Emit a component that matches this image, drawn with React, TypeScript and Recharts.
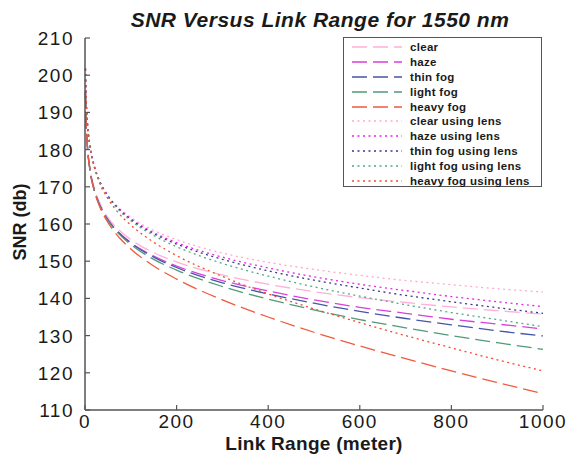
import React from "react";
import { LineChart, Line, XAxis, YAxis } from "recharts";

// link range (meter)
const range = [1, 2, 5, 10, 20, 30, 50, 75, 100, 150, 200, 300, 400, 500, 600, 700, 800, 900, 1000];

// SNR (db)
const clear = [195.8, 189.8, 181.8, 175.8, 169.8, 166.3, 161.8, 158.3, 155.8, 152.3, 149.8, 146.3, 143.8, 141.8, 140.2, 138.9, 137.7, 136.7, 135.8];
const haze = [195.4, 189.4, 181.4, 175.4, 169.3, 165.8, 161.2, 157.6, 155.0, 151.4, 148.7, 144.8, 142.0, 139.6, 137.6, 136.0, 134.4, 133.1, 131.8];
const thinFog = [195.4, 189.4, 181.4, 175.3, 169.3, 165.7, 161.1, 157.5, 154.9, 151.1, 148.3, 144.2, 141.2, 138.7, 136.5, 134.6, 132.9, 131.3, 129.9];
const lightFog = [195.4, 189.4, 181.4, 175.3, 169.2, 165.6, 160.9, 157.2, 154.5, 150.5, 147.6, 143.2, 139.8, 136.9, 134.3, 132.1, 130.0, 128.1, 126.3];
const heavyFog = [195.4, 189.4, 181.3, 175.2, 169.0, 165.3, 160.4, 156.3, 153.3, 148.7, 145.2, 139.6, 135.0, 130.9, 127.2, 123.8, 120.5, 117.4, 114.4];
const clearLens = [201.8, 195.8, 187.8, 181.8, 175.8, 172.3, 167.8, 164.3, 161.8, 158.3, 155.8, 152.2, 149.7, 147.8, 146.2, 144.8, 143.7, 142.6, 141.7];
const hazeLens = [201.8, 195.8, 187.8, 181.8, 175.7, 172.1, 167.6, 164.0, 161.4, 157.7, 155.0, 151.1, 148.2, 145.8, 143.8, 142.1, 140.5, 139.1, 137.8];
const thinFogLens = [201.8, 195.8, 187.8, 181.7, 175.7, 172.1, 167.5, 163.9, 161.2, 157.4, 154.6, 150.5, 147.4, 144.9, 142.8, 140.8, 139.1, 137.5, 136.0];
const lightFogLens = [201.8, 195.8, 187.8, 181.7, 175.6, 172.0, 167.3, 163.6, 160.9, 156.9, 153.9, 149.4, 146.0, 143.1, 140.6, 138.3, 136.2, 134.3, 132.4];
const heavyFogLens = [201.8, 195.7, 187.7, 181.6, 175.4, 171.6, 166.8, 162.7, 159.7, 155.1, 151.5, 145.9, 141.2, 137.2, 133.5, 130.0, 126.7, 123.5, 120.5];

const xTicks = [0, 200, 400, 600, 800, 1000];
const yTicks = [110, 120, 130, 140, 150, 160, 170, 180, 190, 200, 210];

const DASH = "15 6";
const DOT = "2 3.5";

const series = [
  { key: "clear", name: "clear", values: clear, color: "#ffb0d8", dash: DASH },
  { key: "haze", name: "haze", values: haze, color: "#d840d8", dash: DASH },
  { key: "thin", name: "thin fog", values: thinFog, color: "#4656a8", dash: DASH },
  { key: "light", name: "light fog", values: lightFog, color: "#4f9a78", dash: DASH },
  { key: "heavy", name: "heavy fog", values: heavyFog, color: "#f05a3c", dash: DASH },
  { key: "clearL", name: "clear using lens", values: clearLens, color: "#ffa8d0", dash: DOT },
  { key: "hazeL", name: "haze using lens", values: hazeLens, color: "#e826e8", dash: DOT },
  { key: "thinL", name: "thin fog using lens", values: thinFogLens, color: "#34388c", dash: DOT },
  { key: "lightL", name: "light fog using lens", values: lightFogLens, color: "#52a884", dash: DOT },
  { key: "heavyL", name: "heavy fog using lens", values: heavyFogLens, color: "#f04c30", dash: DOT },
];

const data = range.map((x, i) => {
  const row: Record<string, number> = { x };
  series.forEach((s) => (row[s.key] = s.values[i]));
  return row;
});

const FONT = "'Liberation Sans', Arial, sans-serif";
const AXIS = "#555";
const TEXT = "#1a1a1a";

function BottomTick({ x, y, payload }: any) {
  return (
    <g>
      <line x1={x} y1={y} x2={x} y2={y - 5} stroke={AXIS} strokeWidth={1.2} />
      <text x={x} y={y + 18} textAnchor="middle" fontSize={19} letterSpacing={1.5} fill={TEXT} fontFamily={FONT}>
        {payload.value}
      </text>
    </g>
  );
}

function TopTick({ x, y }: any) {
  return <line x1={x} y1={y} x2={x} y2={y + 5} stroke={AXIS} strokeWidth={1.2} />;
}

function LeftTick({ x, y, payload }: any) {
  return (
    <g>
      <line x1={x} y1={y} x2={x + 5} y2={y} stroke={AXIS} strokeWidth={1.2} />
      <text x={x - 11} y={y + 7} textAnchor="end" fontSize={19} letterSpacing={1.5} fill={TEXT} fontFamily={FONT}>
        {payload.value}
      </text>
    </g>
  );
}

function RightTick({ x, y }: any) {
  return <line x1={x} y1={y} x2={x - 5} y2={y} stroke={AXIS} strokeWidth={1.2} />;
}

function LegendBox() {
  return (
    <div
      style={{
        position: "absolute",
        left: 343,
        top: 37,
        width: 199,
        height: 150,
        border: `1px solid ${AXIS}`,
        background: "white",
        boxSizing: "border-box",
        paddingTop: 2,
      }}
    >
      {series.map((s) => (
        <div key={s.key} style={{ display: "flex", alignItems: "center", height: 14.8 }}>
          <svg width={60} height={10} style={{ marginLeft: 6 }}>
            <line x1={2} y1={5} x2={52} y2={5} stroke={s.color} strokeWidth={1.4} strokeDasharray={s.dash} />
          </svg>
          <span style={{ fontFamily: FONT, fontWeight: 700, fontSize: 11.5, color: TEXT, letterSpacing: 0.3 }}>
            {s.name}
          </span>
        </div>
      ))}
    </div>
  );
}

export default function App() {
  return (
    <div style={{ position: "absolute", left: 0, top: 0, width: 575, height: 461, background: "white" }}>
      <div
        style={{
          position: "absolute",
          left: 90,
          width: 460,
          top: 8,
          textAlign: "center",
          fontFamily: FONT,
          fontWeight: 700,
          fontStyle: "italic",
          fontSize: 21,
          letterSpacing: 0.5,
          color: TEXT,
        }}
      >
        SNR Versus Link Range for 1550 nm
      </div>
      <LineChart width={575} height={461} data={data} margin={{ top: 38, right: 32, left: 25, bottom: 21 }}>
        <XAxis
          dataKey="x"
          type="number"
          domain={[0, 1000]}
          ticks={xTicks}
          tickSize={0}
          tickMargin={0}
          tickLine={false}
          tick={<BottomTick />}
          height={30}
          axisLine={{ stroke: AXIS, strokeWidth: 1.5 }}
        />
        <XAxis
          xAxisId="top"
          orientation="top"
          dataKey="x"
          type="number"
          domain={[0, 1000]}
          ticks={xTicks}
          tickSize={0}
          tickMargin={0}
          tickLine={false}
          tick={<TopTick />}
          height={0}
          axisLine={{ stroke: AXIS, strokeWidth: 1.5 }}
        />
        <YAxis
          type="number"
          domain={[110, 210]}
          ticks={yTicks}
          tickSize={0}
          tickMargin={0}
          tickLine={false}
          tick={<LeftTick />}
          width={60}
          axisLine={{ stroke: AXIS, strokeWidth: 1.5 }}
        />
        <YAxis
          yAxisId="right"
          orientation="right"
          type="number"
          domain={[110, 210]}
          ticks={yTicks}
          tickSize={0}
          tickMargin={0}
          tickLine={false}
          tick={<RightTick />}
          width={0}
          axisLine={{ stroke: AXIS, strokeWidth: 1.5 }}
        />
        {series.map((s) => (
          <Line
            key={s.key}
            dataKey={s.key}
            name={s.name}
            type="monotone"
            stroke={s.color}
            strokeWidth={1.3}
            strokeDasharray={s.dash}
            dot={false}
            isAnimationActive={false}
          />
        ))}
      </LineChart>
      <div
        style={{
          position: "absolute",
          left: 85,
          width: 458,
          top: 433,
          lineHeight: "22px",
          textAlign: "center",
          fontFamily: FONT,
          fontWeight: 700,
          fontSize: 19,
          letterSpacing: 0.3,
          color: TEXT,
        }}
      >
        Link Range (meter)
      </div>
      <div
        style={{
          position: "absolute",
          left: 20,
          top: 222,
          transform: "translate(-50%, -50%) rotate(-90deg)",
          whiteSpace: "nowrap",
          fontFamily: FONT,
          fontWeight: 700,
          fontSize: 18,
          color: TEXT,
        }}
      >
        SNR (db)
      </div>
      <LegendBox />
    </div>
  );
}
